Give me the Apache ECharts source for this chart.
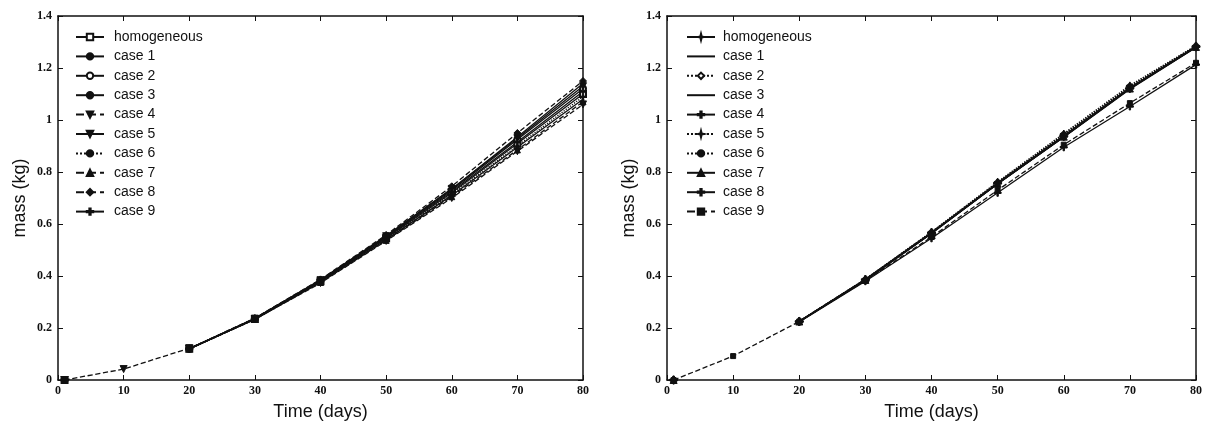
<!DOCTYPE html>
<html style="height: 100%">
<head>
<meta charset="utf-8">
</head>
<body style="height: 100%; margin: 0; background: #fff">
<div id="container" style="height: 426px; width: 1208px"></div>
<script type="text/javascript" src="https://cdn.jsdelivr.net/npm/echarts@6/dist/echarts.min.js"></script>
<script type="text/javascript">
// days sampled
var days = [1, 10, 20, 30, 40, 50, 60, 70, 80];
var names = ['homogeneous', 'case 1', 'case 2', 'case 3', 'case 4', 'case 5', 'case 6', 'case 7', 'case 8', 'case 9'];
var yTicks = [0, 0.2, 0.4, 0.6, 0.8, 1, 1.2, 1.4];

// left panel, mass (kg); null = not sampled
var leftHom   = [0, null, 0.120, 0.235, 0.380, 0.545, 0.720, 0.910, 1.100];
var leftCase1 = [0, null, 0.120, 0.237, 0.385, 0.555, 0.735, 0.935, 1.140];
var leftCase2 = [0, null, 0.120, 0.236, 0.383, 0.550, 0.730, 0.925, 1.120];
var leftCase3 = [0, null, 0.120, 0.234, 0.377, 0.540, 0.710, 0.895, 1.080];
var leftCase4 = [0, 0.042, 0.122, 0.233, 0.373, 0.535, 0.700, 0.880, 1.060];
var leftCase5 = [0, null, 0.121, 0.236, 0.384, 0.553, 0.735, 0.930, 1.130];
var leftCase6 = [0, null, 0.120, 0.235, 0.379, 0.543, 0.715, 0.900, 1.090];
var leftCase7 = [0, null, 0.119, 0.233, 0.375, 0.537, 0.705, 0.885, 1.070];
var leftCase8 = [0, null, 0.121, 0.238, 0.387, 0.558, 0.745, 0.950, 1.150];
var leftCase9 = [0, null, 0.120, 0.235, 0.381, 0.548, 0.725, 0.915, 1.110];

// right panel
var rightHom   = [0, null, 0.225, 0.385, 0.565, 0.755, 0.935, 1.120, 1.280];
var rightCase1 = [0, null, 0.225, 0.385, 0.566, 0.756, 0.937, 1.122, 1.282];
var rightCase2 = [0, null, 0.226, 0.387, 0.568, 0.760, 0.945, 1.130, 1.285];
var rightCase3 = [0, null, 0.225, 0.384, 0.564, 0.754, 0.934, 1.118, 1.279];
var rightCase4 = [0, null, 0.223, 0.380, 0.545, 0.720, 0.895, 1.052, 1.213];
var rightCase5 = [0, null, 0.226, 0.388, 0.570, 0.762, 0.948, 1.133, 1.286];
var rightCase6 = [0, null, 0.226, 0.386, 0.567, 0.758, 0.942, 1.127, 1.284];
var rightCase7 = [0, null, 0.225, 0.385, 0.565, 0.755, 0.936, 1.121, 1.281];
var rightCase8 = [0, null, 0.225, 0.386, 0.566, 0.757, 0.938, 1.123, 1.282];
var rightCase9 = [0, 0.092, 0.225, 0.382, 0.550, 0.730, 0.905, 1.065, 1.220];

var PLUS = 'path://M4 0H6V4H10V6H6V10H4V6H0V4H4Z';
var STAR = 'path://M5 0L6 4L10 5L6 6L5 10L4 6L0 5L4 4Z';

// [line type, symbol, size, rotate]
var leftStyles = [
    ['solid', 'emptyRect', 6],
    ['solid', 'circle', 3],
    ['solid', 'emptyCircle', 6],
    ['solid', 'circle', 2],
    ['dashed', 'triangle', 7, 180],
    ['solid', 'triangle', 7, 180],
    ['dotted', 'circle', 3],
    ['dashed', 'triangle', 6],
    ['dashed', 'diamond', 7],
    ['solid', PLUS, 7]
];
var rightStyles = [
    ['solid', STAR, 8],
    ['solid', 'none', 0],
    ['dotted', 'emptyDiamond', 6],
    ['solid', 'none', 0],
    ['solid', PLUS, 7],
    ['dotted', STAR, 7],
    ['dotted', 'circle', 3],
    ['solid', 'triangle', 7],
    ['solid', PLUS, 8],
    ['dashed', 'rect', 5]
];

var leftData = [leftHom, leftCase1, leftCase2, leftCase3, leftCase4, leftCase5, leftCase6, leftCase7, leftCase8, leftCase9];
var rightData = [rightHom, rightCase1, rightCase2, rightCase3, rightCase4, rightCase5, rightCase6, rightCase7, rightCase8, rightCase9];

function pairs(vals) {
    return days.map(function (d, i) { return [d, vals[i] == null ? '-' : vals[i]]; });
}

var series = [];
function addSeries(list, styles, idx, suffix) {
    for (var i = 0; i < list.length; i++) {
        var st = styles[i];
        var noMark = st[1] === 'none';
        series.push({
            name: names[i] + suffix,
            type: 'line',
            xAxisIndex: idx * 2,
            yAxisIndex: idx * 2,
            data: pairs(list[i]),
            symbol: noMark ? 'circle' : st[1],
            symbolSize: noMark ? 1 : st[2],
            symbolRotate: st[3] || 0,
            showSymbol: !noMark,
            lineStyle: { color: '#111', width: i === 8 && idx === 1 ? 2 : 1.3, type: st[0] },
            itemStyle: { color: '#111', borderColor: '#111', borderWidth: 1, opacity: noMark ? 0 : 1 },
            animation: false
        });
    }
}
addSeries(leftData, leftStyles, 0, '');
addSeries(rightData, rightStyles, 1, ' ');

var tickFont = { color: '#111', fontFamily: 'Liberation Serif', fontWeight: 'bold', fontSize: 12 };
var axisLine = { show: true, onZero: false, lineStyle: { color: '#111', width: 1.5 } };

function xAxes(g) {
    return [{
        type: 'value', gridIndex: g, min: 0, max: 80, interval: 10,
        name: 'Time (days)', nameLocation: 'middle', nameGap: 23,
        nameTextStyle: { color: '#111', fontFamily: 'Liberation Sans', fontSize: 18 },
        axisLine: axisLine, axisTick: { inside: true, length: 5, lineStyle: { color: '#111' } },
        axisLabel: Object.assign({ margin: 5 }, tickFont), splitLine: { show: false }
    }, {
        type: 'value', gridIndex: g, min: 0, max: 80, interval: 10, position: 'top',
        axisLine: axisLine, axisTick: { inside: true, length: 5, lineStyle: { color: '#111' } },
        axisLabel: { show: false }, splitLine: { show: false }
    }];
}
function yAxes(g) {
    return [{
        type: 'value', gridIndex: g, min: 0, max: 1.4, interval: 0.2,
        name: 'mass (kg)', nameLocation: 'middle', nameGap: 29,
        nameTextStyle: { color: '#111', fontFamily: 'Liberation Sans', fontSize: 18 },
        axisLine: axisLine, axisTick: { inside: true, length: 5, lineStyle: { color: '#111' } },
        axisLabel: Object.assign({ margin: 6 }, tickFont), splitLine: { show: false }
    }, {
        type: 'value', gridIndex: g, min: 0, max: 1.4, interval: 0.2, position: 'right',
        axisLine: axisLine, axisTick: { inside: true, length: 5, lineStyle: { color: '#111' } },
        axisLabel: { show: false }, splitLine: { show: false }
    }];
}

var legendText = { color: '#111', fontFamily: 'Liberation Sans', fontSize: 14, lineHeight: 14 };

var option = {
    backgroundColor: '#fff',
    animation: false,
    grid: [
        { left: 58, top: 16, width: 525, height: 366 },
        { left: 667, top: 16, width: 529, height: 366 }
    ],
    xAxis: xAxes(0).concat(xAxes(1)),
    yAxis: yAxes(0).concat(yAxes(1)),
    legend: [{
        orient: 'vertical', left: 70, top: 25, itemGap: 5.4, itemWidth: 28, itemHeight: 8,
        data: names.slice(),
        textStyle: Object.assign({ padding: [0, 0, 0, 5] }, legendText)
    }, {
        orient: 'vertical', left: 681, top: 25, itemGap: 5.4, itemWidth: 28, itemHeight: 8,
        data: names.map(function (n) { return n + ' '; }),
        formatter: function (n) { return n.trim(); },
        textStyle: Object.assign({ padding: [0, 0, 0, 3] }, legendText)
    }],
    series: series
};

var myChart = echarts.init(document.getElementById('container'));
myChart.setOption(option);
</script>
</body>
</html>
